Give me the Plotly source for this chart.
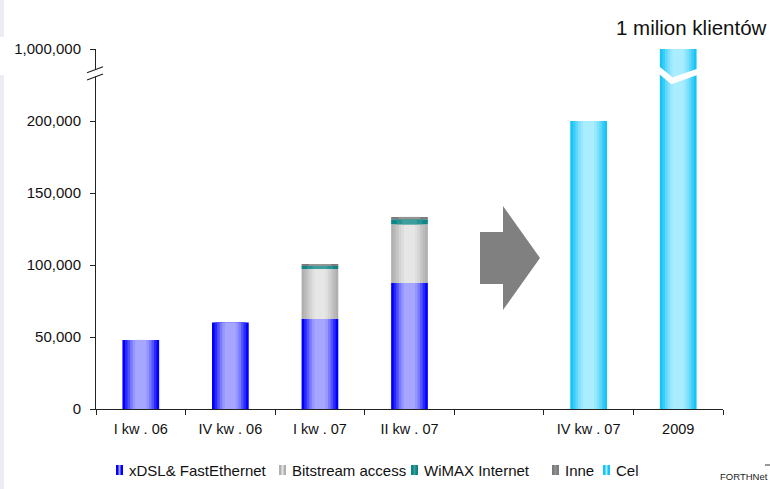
import plotly.graph_objects as go

# ---- data -------------------------------------------------------------
categories = ["I kw . 06", "IV kw . 06", "I kw . 07", "II kw . 07", " ", "IV kw . 07", "2009"]
xdsl = [48000, 60000, 62500, 87500, 0, 0, 0]
bitstream = [0, 0, 34700, 40800, 0, 0, 0]
wimax = [0, 0, 2100, 3500, 0, 0, 0]
inne = [0, 0, 1400, 1600, 0, 0, 0]
cel = [0, 0, 0, 0, 0, 200000, 1000000]

series_names = ["xDSL& FastEthernet", "Bitstream access", "WiMAX Internet", "Inne", "Cel"]

y_tick_values = [0, 50000, 100000, 150000, 200000, 1000000]
y_tick_labels = ["0", "50,000", "100,000", "150,000", "200,000", "1,000,000"]

headline = "1 milion klientów"
source_note = "FORTHNet"

# ---- broken value axis: 200k..1M squeezed into one 50k step ------------
BREAK_AT = 200000
BREAK_TOP = 1000000
BREAK_SPAN = 50000


def axis_pos(v):
    if v <= BREAK_AT:
        return v
    return BREAK_AT + (v - BREAK_AT) * BREAK_SPAN / (BREAK_TOP - BREAK_AT)


# ---- cylinder-like shading: nested bars, outer edge -> bright centre ----
shades = {
    "xDSL& FastEthernet": [(1.0, "#0000ff"), (0.86, "#2828ff"), (0.72, "#5252ff"),
                           (0.58, "#7a7aff"), (0.44, "#9696ff"), (0.30, "#a6a6ff")],
    "Bitstream access": [(1.0, "#b0b0b0"), (0.86, "#bababa"), (0.72, "#c6c6c6"),
                         (0.58, "#d4d4d4"), (0.44, "#dedede"), (0.30, "#e6e6e6")],
    "WiMAX Internet": [(1.0, "#0f8686"), (0.70, "#279393"), (0.40, "#3d9e9e")],
    "Inne": [(1.0, "#7c7c7c"), (0.60, "#949494")],
    "Cel": [(1.0, "#16c4f6"), (0.86, "#38cdf8"), (0.72, "#5ed7fa"),
            (0.58, "#80e1fc"), (0.44, "#9ae8fe"), (0.30, "#aaedff")],
}
series_values = [xdsl, bitstream, wimax, inne, cel]

BAR_W = 0.41

fig = go.Figure()
running = [0] * len(categories)
for name, vals in zip(series_names, series_values):
    bases, heights = [], []
    for i, v in enumerate(vals):
        lo = running[i]
        hi = lo + v
        bases.append(axis_pos(lo))
        heights.append(axis_pos(hi) - axis_pos(lo) if v else None)
        running[i] = hi
    for frac, col in shades[name]:
        fig.add_trace(go.Bar(
            x=categories, y=heights, base=bases, width=BAR_W * frac,
            marker=dict(color=col, line=dict(width=0)),
            name=name, showlegend=False, hoverinfo="skip",
        ))

# ---- plot geometry (pixels) -------------------------------------------
W, H = 770, 489
L, R, T, B = 96, 47, 49, 80
PW, PH = W - L - R, H - T - B


def px(x):
    return (x - L) / PW


def py(y):
    return (H - B - y) / PH


shapes = []
annotations = []

# break mark on the value axis
shapes.append(dict(type="rect", xref="paper", yref="paper",
                   x0=px(93), x1=px(99.5), y0=py(76.5), y1=py(69.5),
                   fillcolor="white", line=dict(width=0), layer="above"))
for y_left, y_right in [(72.7, 66.7), (80.0, 74.0)]:
    shapes.append(dict(type="line", xref="paper", yref="paper",
                       x0=px(87), y0=py(y_left), x1=px(103), y1=py(y_right),
                       line=dict(color="#222222", width=1.2), layer="above"))

# break mark across the tallest bar
top_idx = categories.index("2009")
zig_y = [axis_pos(v) for v in (1000000 - 225000, 1000000 - 353000, 1000000 - 250000)]
zig_x = [top_idx - BAR_W / 2 - 0.02, top_idx - 0.07, top_idx + BAR_W / 2 + 0.02]
shapes.append(dict(
    type="path", xref="x", yref="y",
    path=f"M {zig_x[0]},{zig_y[0]} L {zig_x[1]},{zig_y[1]} L {zig_x[2]},{zig_y[2]}",
    line=dict(color="white", width=6), layer="above"))

# block arrow between history and targets
ax = [px(480), px(503), px(540)]
ay_body = [py(232), py(284)]
ay_head = [py(206), py(310)]
ay_tip = py(258)
shapes.append(dict(
    type="path", xref="paper", yref="paper",
    path=(f"M {ax[0]},{ay_body[0]} L {ax[1]},{ay_body[0]} L {ax[1]},{ay_head[0]} "
          f"L {ax[2]},{ay_tip} L {ax[1]},{ay_head[1]} L {ax[1]},{ay_body[1]} "
          f"L {ax[0]},{ay_body[1]} Z"),
    fillcolor="#808080", line=dict(width=0), layer="above"))

# faint strip along the left edge
for y0, y1 in [(0, 37), (75, 489)]:
    shapes.append(dict(type="rect", xref="paper", yref="paper",
                       x0=px(0), x1=px(4), y0=py(y1), y1=py(y0),
                       fillcolor="#ececf4", line=dict(width=0), layer="below"))

# legend row
legend_marker_x = [116, 279, 411, 552, 603]
legend_y = 470
for name, mx in zip(series_names, legend_marker_x):
    outer = shades[name][0][1]
    inner = shades[name][-1][1]
    shapes.append(dict(type="rect", xref="paper", yref="paper",
                       x0=px(mx), x1=px(mx + 7), y0=py(legend_y + 5), y1=py(legend_y - 5),
                       fillcolor=outer, line=dict(width=0)))
    shapes.append(dict(type="rect", xref="paper", yref="paper",
                       x0=px(mx + 2.5), x1=px(mx + 4.5), y0=py(legend_y + 5), y1=py(legend_y - 5),
                       fillcolor=inner, line=dict(width=0)))
    annotations.append(dict(text=name, xref="paper", yref="paper",
                            x=px(mx + 11), y=py(legend_y), xanchor="left", yanchor="middle",
                            showarrow=False, font=dict(size=15, color="#111111")))

annotations.append(dict(text=headline, xref="paper", yref="paper",
                        x=px(769), y=py(27), xanchor="right", yanchor="middle",
                        showarrow=False, font=dict(size=20.5, color="#111111")))
annotations.append(dict(text=source_note, xref="paper", yref="paper",
                        x=px(770), y=py(476), xanchor="right", yanchor="middle",
                        showarrow=False, font=dict(size=9.5, color="#222222")))
shapes.append(dict(type="line", xref="paper", yref="paper",
                   x0=px(765), x1=px(770), y0=py(465), y1=py(465),
                   line=dict(color="#333333", width=1)))

fig.update_layout(
    width=W, height=H, autosize=False,
    margin=dict(l=L, r=R, t=T, b=B, pad=0),
    barmode="overlay",
    paper_bgcolor="white", plot_bgcolor="white",
    font=dict(family="Liberation Sans, Arial, sans-serif", color="#111111"),
    showlegend=False,
    shapes=shapes,
    annotations=annotations,
    xaxis=dict(
        type="category", categoryorder="array", categoryarray=categories,
        range=[-0.5, len(categories) - 0.5],
        tickson="boundaries", ticks="outside", ticklen=5, tickcolor="#222222",
        showline=True, linecolor="#222222", linewidth=1,
        showgrid=False, zeroline=False,
        tickfont=dict(size=14.5, color="#111111"),
        ticklabelstandoff=7,
    ),
    yaxis=dict(
        range=[0, axis_pos(BREAK_TOP)],
        tickmode="array",
        tickvals=[axis_pos(v) for v in y_tick_values],
        ticktext=y_tick_labels,
        ticks="outside", ticklen=5, tickcolor="#222222",
        showline=True, linecolor="#222222", linewidth=1,
        showgrid=False, zeroline=False,
        tickfont=dict(size=15, color="#111111"),
        ticklabelstandoff=6,
    ),
)

fig.write_html("out.html")
